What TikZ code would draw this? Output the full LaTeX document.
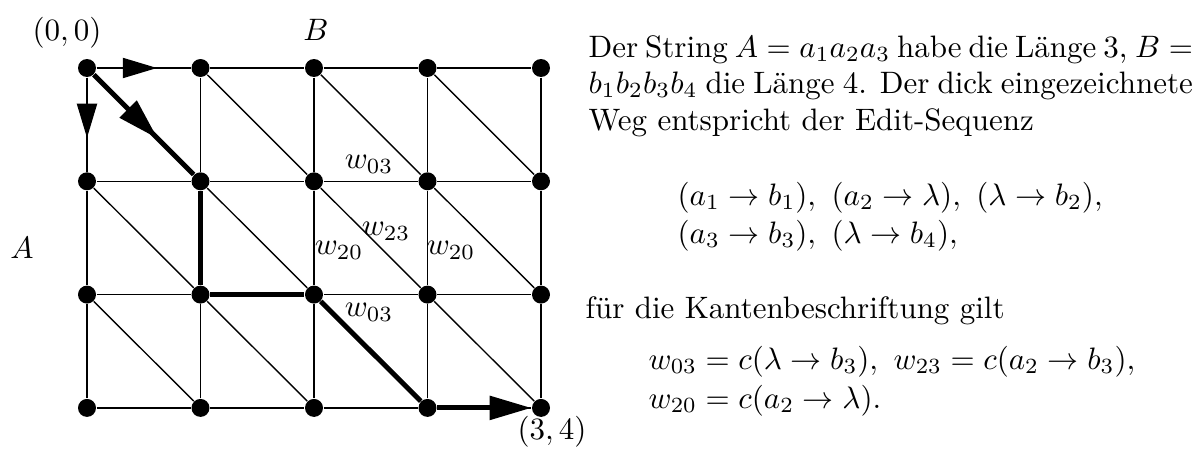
\documentclass[tikz,border=0pt]{standalone}
\usepackage{amsmath}
\usetikzlibrary{arrows.meta, decorations.markings}

\tikzset{
  dot/.style={circle, fill=black, inner sep=0pt, minimum size=5.8pt},
  edge/.style={line width=0.45pt},
  pathedge/.style={line width=1.6pt},
  midarrow/.style={postaction={decorate, decoration={markings,
      mark=at position 0.64 with {\arrow{#1}}}}},
  line/.style={anchor=base west, inner sep=0pt}
}

\begin{document}
\begin{tikzpicture}[x=0.01134cm, y=-0.01134cm]

\useasboundingbox (0,0) rectangle (1195,453);

\def\X{87}
\def\Y{68}
\def\D{113.5}

% grid points
\foreach \r in {0,...,3}
  \foreach \c in {0,...,4}
    \node[dot] (v\r\c) at ({\X+\D*\c}, {\Y+113.3*\r}) {};

% grid edges
\foreach \r in {0,...,3}
  \foreach \c [count=\cn] in {0,...,3}
    \draw[edge] (v\r\c) -- (v\r\cn);
\foreach \r [count=\rn] in {0,...,2}
  \foreach \c in {0,...,4}
    \draw[edge] (v\r\c) -- (v\rn\c);
\foreach \r [count=\rn] in {0,...,2}
  \foreach \c [count=\cn] in {0,...,3}
    \draw[edge] (v\r\c) -- (v\rn\cn);

\draw[edge, midarrow={Triangle[length=11pt, width=6.5pt]}] (v00) -- (v01);
\draw[edge, midarrow={Triangle[length=11pt, width=6.5pt]}] (v00) -- (v10);

% edit path
\draw[pathedge, midarrow={Triangle[length=13.5pt, width=7.5pt]}] (v00) -- (v11);
\draw[pathedge] (v11) -- (v21);
\draw[pathedge] (v21) -- (v22);
\draw[pathedge] (v22) -- (v33);
\draw[pathedge, -{Triangle[length=13.5pt, width=7.5pt]}] (v33) -- (v34);

\node (start) at (67,33) {$(0,0)$};
\node (end) at (552,432) {$(3,4)$};
\node (lB) at (316,30) {$B$};
\node (lA) at (22,248) {$A$};

\node (wa) at (369,164) {$w_{03}$};
\node (wb) at (386,231) {$w_{23}$};
\node (wc) at (339,250) {$w_{20}$};
\node (wd) at (451,250) {$w_{20}$};
\node (we) at (369,312) {$w_{03}$};

% text
\node[line] (t1) at (588,57) {\makebox[6.79cm][s]{Der String $A=a_1a_2a_3$ habe die L\"ange~3, $B=$}};
\node[line] (t2) at (588,93) {\makebox[6.85cm][s]{$b_1b_2b_3b_4$ die L\"ange 4. Der dick eingezeichnete}};
\node[line] (t3) at (588,130) {Weg entspricht der Edit-Sequenz};
\node[line] (t4) at (677,205) {$(a_1\to b_1),\ (a_2\to\lambda),\ (\lambda\to b_2),$};
\node[line] (t5) at (677,243) {$(a_3\to b_3),\ (\lambda\to b_4),$};
\node[line] (t6) at (585,318) {f\"ur die Kantenbeschriftung gilt};
\node[line] (t7) at (648,369) {$w_{03}=c(\lambda\to b_3),\ w_{23}=c(a_2\to b_3),$};
\node[line] (t8) at (648,408) {$w_{20}=c(a_2\to\lambda).$};

\end{tikzpicture}
\end{document}
